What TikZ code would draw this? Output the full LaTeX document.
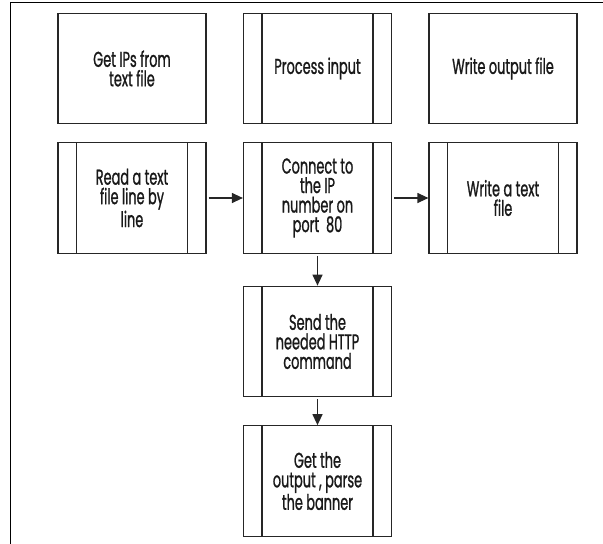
\documentclass[tikz,border=0pt]{standalone}
\usepackage{fontspec}
\setmainfont[FakeStretch=0.6, FakeBold=1]{Poppins}
\usepackage{tikz}
\usetikzlibrary{arrows.meta}

\begin{document}
\begin{tikzpicture}[x = 1pt, y = -1pt,
	box/.style = {draw = black!85, line width = 1.2pt, minimum width = 148pt, minimum height = 110.5pt, inner sep = 0pt, align = center, text = black!90, font = \fontsize{21.5}{19.5}\selectfont},
	proc/.style = {box, path picture = {
		\draw[black!85, line width = 1.2pt] ([xshift = 18.5pt]path picture bounding box.north west) -- ([xshift = 18.5pt]path picture bounding box.south west);
		\draw[black!85, line width = 1.2pt] ([xshift = -18.5pt]path picture bounding box.north east) -- ([xshift = -18.5pt]path picture bounding box.south east);}},
	arr/.style = {line width = 1.2pt, black!85, -{Triangle[length = 11pt, width = 10pt]}, shorten <= 2pt}]

\useasboundingbox (0,0) rectangle (603,544);
\draw[line width = 1pt] (10,544) -- (10,2) -- (603,2);

% top row
\node[box]  (getips)  at (132,68.5)   {Get IPs from\\ text file};
\node[proc] (process) at (317.5,68.5) {Process input};
\node[box]  (writeout) at (503,68.5)  {Write output file};

% second row
\node[proc] (readline) at (132,198)   {Read a text\\ file line by\\ line};
\node[proc] (connect)  at (317.5,198) {Connect to\\ the IP\\ number on\\ port~~80};
\node[proc] (writetxt) at (503,198)   {Write a text\\ file};

% down the middle
\node[proc] (send)  at (317.5,341.5) {Send the\\ needed HTTP\\ command};
\node[proc] (parse) at (317.5,481)   {Get the\\ output , parse\\ the banner};

\draw[arr] (readline) -- (connect);
\draw[arr] (connect) -- (writetxt);
\draw[arr] (connect) -- (send);
\draw[arr] (send) -- (parse);
\end{tikzpicture}
\end{document}
